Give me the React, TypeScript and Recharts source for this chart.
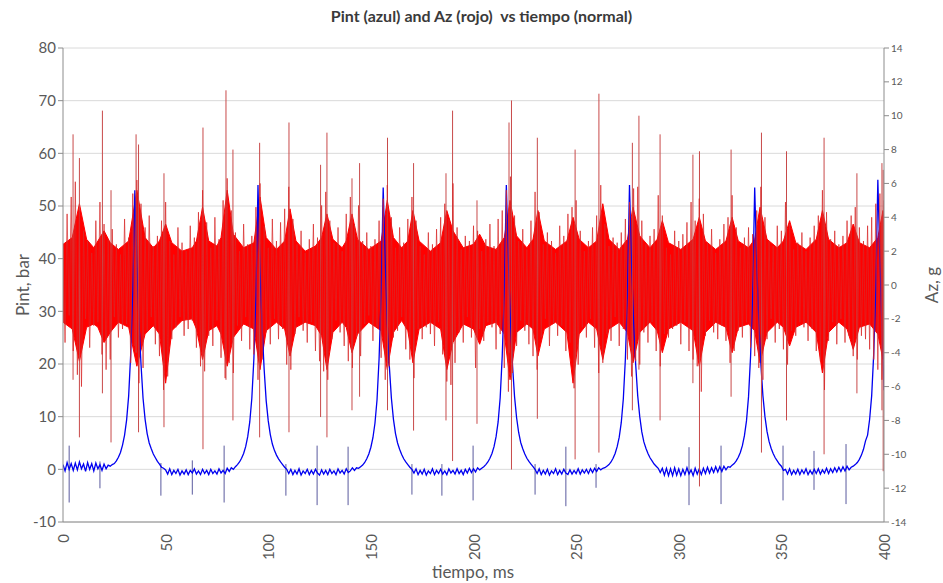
import * as React from 'react';
import { Area, CartesianGrid, ComposedChart, Line, XAxis, YAxis } from 'recharts';

// Pint (bar), one sample per ms, 0..400 ms
const PINT: number[] = [
  0.9, -0.3, 1.3, 0.0, 1.1, -0.2, 1.2, -0.1, 1.4, 0.1,
  1.0, -0.4, 1.3, 0.0, 1.1, -0.3, 1.2, 0.1, 0.9, -0.2,
  1.0, 0.1, 0.8, 0.6, 0.9, 1.1, 1.6, 2.3, 3.2, 4.6,
  6.5, 9.4, 14, 22, 34, 53, 40, 28, 20, 13.5,
  9.5, 6.8, 5.0, 3.9, 2.9, 2.2, 1.5, 1.0, 0.4, 0.2,
  -0.1, -0.9, 0.1, -1.0, -0.2, -0.8, 0.0, -1.1, -0.3, -0.9,
  -0.1, -1.0, -0.2, -0.7, 0.1, -0.9, -0.3, -1.0, 0.0, -0.8,
  -0.2, -1.0, 0.0, -0.8, -0.3, -0.9, 0.1, -0.7, -0.2, -0.8,
  0.2, -0.4, 0.3, 0.0, 0.5, 0.9, 1.4, 2.1, 3.0, 4.3,
  6.2, 9.0, 13.5, 21, 33, 54, 38, 27, 19, 13,
  9.2, 6.6, 4.8, 3.6, 2.7, 2.0, 1.4, 0.9, 0.4, 0.0,
  -0.8, 0.0, -1.0, -0.2, -0.9, 0.1, -1.1, -0.3, -0.8, 0.0,
  -1.0, -0.2, -0.9, 0.0, -0.7, -1.1, -0.1, -0.9, -0.2, -1.0,
  0.0, -0.8, -0.3, -1.0, 0.1, -0.7, -0.2, -0.9, 0.1, -0.6,
  -0.3, 0.3, -0.2, 0.3, 0.2, 0.5, 0.8, 1.3, 2.0, 2.9,
  4.2, 6.0, 8.8, 13.2, 21, 33, 53.5, 39, 27.5, 19.5,
  13.5, 9.5, 6.8, 5.0, 3.8, 2.8, 2.0, 1.4, 0.9, 0.4,
  0.0, -0.7, 0.1, -1.0, -0.2, -0.9, 0.0, -1.1, -0.3, -0.8,
  0.1, -1.0, -0.2, -0.8, 0.0, -0.9, -0.3, -1.0, 0.1, -0.7,
  -0.2, -0.9, 0.1, -0.8, -0.2, -1.0, 0.0, -0.7, 0.2, -0.6,
  0.1, -0.5, 0.3, -0.1, 0.2, 0.5, 0.9, 1.4, 2.1, 3.0,
  4.3, 6.2, 9.0, 13.6, 21.5, 33.5, 54, 39.5, 28, 19.8,
  13.8, 9.8, 7.0, 5.1, 3.9, 2.9, 2.1, 1.5, 1.0, 0.5,
  0.0, -0.8, 0.1, -1.0, -0.2, -0.9, 0.0, -1.1, -0.3, -0.8,
  0.1, -1.0, -0.2, -0.9, 0.0, -0.7, -1.0, -0.1, -0.9, -0.2,
  -0.8, 0.1, -0.9, -0.1, -0.7, 0.0, -0.8, 0.1, -0.6, 0.2,
  -0.4, 0.3, -0.1, 0.2, 0.3, 0.6, 0.9, 1.4, 2.1, 3.0,
  4.3, 6.1, 8.9, 13.4, 21, 33, 54, 39, 28, 20,
  14, 10, 7.1, 5.2, 4.0, 3.0, 2.2, 1.6, 1.0, 0.6,
  0.2, -0.6, 0.2, -1.1, 0.2, -1.2, 0.1, -1.2, 0.3, -1.1,
  0.1, -1.2, 0.0, -1.0, 0.3, -0.9, -0.1, -1.2, 0.2, -0.9,
  0.1, -1.0, 0.2, -0.8, 0.4, -0.7, 0.3, -0.6, 0.5, -0.5,
  0.5, -0.4, 0.6, -0.1, 0.5, 0.4, 0.8, 1.1, 1.6, 2.3,
  3.2, 4.5, 6.4, 9.2, 13.8, 21.5, 33, 53.5, 39, 28,
  20, 14, 10, 7.2, 5.3, 4.0, 3.0, 2.2, 1.6, 1.0,
  0.6, -0.2, 0.0, -0.9, 0.1, -1.0, -0.2, -0.9, 0.0, -1.0,
  -0.1, -0.8, 0.1, -1.0, -0.2, -0.9, 0.0, -0.8, 0.1, -0.9,
  -0.1, -0.7, 0.2, -0.8, 0.1, -0.6, 0.3, -0.5, 0.4, -0.4,
  0.5, -0.3, 0.6, -0.1, 0.4, 0.6, 0.9, 1.3, 1.9, 2.7,
  3.8, 5.4, 6.5, 9.5, 14, 22, 34, 55, 40, 27,
  15,
];

// short Pint spikes: time (ms), top, bottom
const PINT_SPIKE_T = [3, 18, 47.7, 63, 78.5, 108.6, 123.8, 138.9, 170, 184.6, 199.8, 230, 245, 259.7, 305, 320.6, 350.8, 365.9, 381.5];
const PINT_SPIKE_HI = [4.5, 1.5, 1.2, 1.7, 4.5, 1.0, 4.5, 4.3, 1.0, 1.0, 4.5, 1.0, 4.3, 1.0, 4.2, 4.5, 4.5, 3.5, 4.8];
const PINT_SPIKE_LO = [-6.3, -3.6, -5.0, -4.8, -6.3, -5.0, -6.8, -6.8, -4.8, -5.0, -5.9, -4.8, -7.0, -3.5, -6.8, -6.6, -5.9, -3.9, -6.6];

// Az (g), one sample per ms, 0..400 ms
const AZ: number[] = [
  2.1, -3.4, 4.2, -1.8, 5.2, -3.9, 6.1, -5.3, 4.4, -6.0,
  3.2, -2.0, 2.6, -3.7, 1.9, -2.4, 3.8, -2.2, 4.9, -4.1,
  3.6, -5.0, 2.7, -4.4, 3.3, -1.9, 2.4, -3.1, 1.8, -2.6,
  3.9, -2.3, 2.8, -4.6, 5.4, -3.6, 6.2, -5.8, 4.8, -4.9,
  3.4, -2.7, 4.1, -1.9, 2.3, -3.5, 2.9, -4.2, 3.8, -6.2,
  4.9, -5.4, 2.6, -3.2, 1.8, -2.5, 3.4, -1.9, 2.5, -3.0,
  2.0, -2.6, 3.5, -2.1, 2.8, -3.7, 4.3, -4.8, 5.6, -5.1,
  3.7, -3.0, 2.2, -3.6, 4.0, -2.1, 2.7, -4.3, 5.0, -5.5,
  6.3, -4.6, 4.4, -5.2, 3.1, -2.4, 2.0, -3.3, 3.6, -1.9,
  2.4, -3.8, 2.9, -4.1, 4.6, -5.6, 6.0, -4.4, 3.5, -2.8,
  2.2, -3.5, 3.9, -2.0, 2.6, -3.2, 3.7, -2.6, 4.5, -4.7,
  5.8, -5.0, 3.9, -2.9, 2.4, -1.9, 3.2, -2.7, 1.9, -3.4,
  2.7, -2.2, 3.6, -3.9, 2.8, -4.5, 4.7, -5.1, 5.5, -5.6,
  3.8, -3.2, 2.5, -2.1, 3.4, -2.8, 2.0, -3.6, 4.2, -4.5,
  5.2, -4.9, 3.6, -3.1, 4.7, -4.2, 2.6, -2.3, 3.1, -1.8,
  2.3, -3.3, 2.7, -2.5, 3.8, -4.3, 5.1, -5.6, 5.9, -4.8,
  4.0, -3.1, 2.2, -2.7, 3.4, -1.9, 2.5, -3.8, 3.9, -4.4,
  5.2, -5.5, 3.8, -2.6, 2.3, -3.2, 1.8, -2.5, 3.1, -2.9,
  2.4, -3.6, 3.3, -2.2, 4.0, -4.1, 4.8, -5.7, 3.9, -5.9,
  6.0, -4.6, 3.4, -2.8, 2.1, -3.4, 2.9, -1.9, 2.6, -3.1,
  3.5, -4.9, 3.2, -2.6, 2.0, -3.3, 2.7, -2.2, 3.6, -2.5,
  2.3, -3.8, 3.9, -2.9, 4.4, -4.9, 5.6, -6.3, 6.4, -5.2,
  4.1, -3.6, 2.6, -2.1, 3.3, -2.7, 2.1, -3.5, 3.8, -4.2,
  5.5, -5.0, 4.3, -3.1, 2.4, -2.0, 3.1, -3.6, 2.6, -2.3,
  1.9, -3.0, 3.5, -2.4, 2.9, -3.9, 4.2, -3.4, 4.6, -6.1,
  5.0, -4.7, 3.2, -2.5, 2.0, -3.1, 2.6, -2.0, 3.4, -3.7,
  4.1, -5.2, 5.9, -4.6, 3.6, -2.9, 2.3, -3.3, 2.8, -1.9,
  2.5, -3.6, 3.1, -2.6, 3.9, -4.4, 4.9, -5.4, 5.7, -4.5,
  5.8, -4.7, 3.8, -2.8, 2.4, -3.4, 2.9, -2.2, 3.3, -3.9,
  5.3, -4.8, 4.1, -2.9, 2.2, -3.1, 1.8, -2.6, 3.2, -2.4,
  2.6, -3.5, 3.0, -2.2, 3.7, -3.9, 4.9, -4.4, 3.8, -4.8,
  5.1, -6.3, 4.2, -3.0, 2.5, -2.1, 3.3, -2.8, 1.9, -3.2,
  2.7, -2.4, 3.6, -3.3, 4.0, -4.6, 5.3, -3.9, 3.4, -2.7,
  2.2, -3.1, 2.8, -2.2, 3.4, -3.7, 3.0, -4.2, 4.4, -4.9,
  5.8, -5.6, 4.0, -3.2, 2.6, -2.0, 2.3, -3.4, 3.5, -2.6,
  3.2, -3.8, 4.9, -4.7, 3.6, -2.7, 2.1, -3.0, 2.5, -2.2,
  3.1, -2.5, 2.0, -3.3, 2.8, -2.6, 3.5, -3.9, 4.1, -4.5,
  5.6, -6.2, 4.3, -3.3, 2.7, -2.2, 3.2, -3.5, 2.4, -2.0,
  2.9, -3.4, 3.8, -3.0, 4.1, -4.2, 4.6, -4.4, 3.4, -3.0,
  2.6, -3.2, 3.5, -3.8, 4.0, -4.4, 4.8, -5.0, 5.4, -5.6,
  5.0,
];

// solid core of the Az trace (bursts widen it)
const AZ_CORE_T = [
  0, 4.5, 8, 11.5, 15, 17, 20, 23, 27, 32, 36, 40, 44, 47, 50, 53, 58, 63, 65, 68,
  71, 75, 77, 80, 83, 88, 93, 96, 99, 104, 108, 110.6, 113.5, 118, 123, 126, 128.6, 131.5, 136, 138,
  140.8, 143.5, 149, 155, 158, 161, 165, 168, 170.5, 173.5, 179, 184, 187, 190, 195, 200, 203, 206, 211, 215,
  217.8, 221, 226, 229, 231.4, 234.5, 240, 245.5, 248.5, 251.5, 256, 260, 263, 266, 271, 275, 277.7, 281, 286, 289.5,
  292, 295, 301, 307, 310, 313, 318, 323, 326, 329, 334, 337, 339.6, 343, 348, 351, 354, 357, 362, 367,
  370, 373, 378, 382, 385, 388, 393, 397, 399.5, 400,
];
const AZ_CORE_HI = [
  2.4, 2.8, 4.8, 2.7, 2.2, 2.6, 3.2, 2.5, 2.1, 2.6, 5.6, 2.8, 2.2, 2.6, 3.6, 2.5, 2.0, 2.2, 2.6, 4.6,
  2.6, 2.3, 2.8, 5.6, 3.0, 2.2, 2.5, 5.2, 2.8, 2.1, 2.6, 4.5, 2.6, 2.0, 2.3, 2.8, 4.2, 2.7, 2.2, 2.6,
  4.2, 2.7, 2.1, 2.6, 5.0, 2.8, 2.2, 2.6, 4.4, 2.6, 2.0, 2.5, 4.4, 3.2, 2.2, 2.4, 3.0, 2.3, 2.1, 2.8,
  5.0, 2.9, 2.2, 2.7, 4.4, 2.6, 2.1, 2.6, 4.0, 2.7, 2.2, 2.6, 4.8, 2.7, 2.1, 2.7, 4.6, 2.9, 2.2, 2.7,
  3.8, 2.5, 2.1, 2.7, 4.0, 2.6, 2.1, 2.6, 4.0, 2.6, 2.2, 2.7, 4.6, 2.7, 2.2, 2.6, 3.8, 2.5, 2.1, 2.7,
  4.4, 2.7, 2.2, 2.5, 3.6, 2.5, 2.2, 2.8, 4.4, 3.6,
];
const AZ_CORE_LO = [
  -2.2, -2.6, -4.5, -2.5, -2.3, -2.5, -3.4, -2.8, -2.2, -2.5, -4.8, -2.9, -2.4, -2.9, -5.8, -2.7, -2.1, -2.0, -2.6, -4.4,
  -2.7, -2.4, -2.9, -4.8, -3.1, -2.3, -2.6, -5.0, -2.7, -2.2, -2.6, -4.2, -2.5, -2.2, -2.4, -3.0, -5.0, -2.8, -2.2, -2.5,
  -4.0, -2.9, -2.2, -2.7, -5.0, -2.8, -2.1, -2.7, -4.6, -2.6, -2.2, -2.6, -5.0, -3.4, -2.3, -2.6, -3.5, -2.4, -2.2, -2.9,
  -5.6, -2.8, -2.3, -2.6, -4.2, -2.6, -2.2, -2.8, -5.8, -2.9, -2.2, -2.6, -4.4, -2.6, -2.2, -2.8, -4.6, -2.8, -2.2, -2.7,
  -4.0, -2.6, -2.2, -2.7, -4.8, -2.8, -2.2, -2.5, -4.0, -2.5, -2.3, -2.7, -4.6, -2.8, -2.2, -2.5, -3.6, -2.5, -2.2, -2.8,
  -5.2, -2.8, -2.2, -2.6, -3.8, -2.5, -2.3, -2.9, -4.4, -3.4,
];

// tall Az spikes: time (ms), top, bottom
const AZ_SPIKE_T = [
  4.9, 8.0, 19.2, 23.4, 35.6, 36.8, 49.2, 68.2, 79.4, 82.8, 95.8, 110.1, 125.5, 128.6, 140.8, 144.5, 158.1, 170.8, 186.6,
  189.8, 201.7, 217.3, 218.5, 231.1, 249.5, 261.1, 277.4, 280.6, 290.9, 306.9, 310.1, 325.5, 340.3, 352.5, 370.8, 386.8, 399.0, 399.6,
];
const AZ_SPIKE_HI = [
  8.9, 7.5, 10.3, 5.6, 8.9, 8.3, 6.6, 9.3, 11.5, 8.0, 8.4, 9.6, 7.1, 9.0, 6.3, 7.2, 8.7, 7.2, 6.6,
  10.3, 5.0, 9.6, 10.9, 8.7, 8.0, 11.3, 8.4, 10.0, 8.9, 7.7, 7.9, 8.0, 9.0, 7.9, 8.7, 6.6, 7.2, 6.8,
];
const AZ_SPIKE_LO = [
  -5.6, -9.0, -6.4, -9.3, -4.0, -8.7, -8.4, -9.7, -5.6, -8.0, -9.0, -8.7, -7.8, -9.0, -7.4, -6.6, -7.4, -8.6, -8.0,
  -10.4, -8.2, -4.0, -10.9, -7.9, -10.3, -9.9, -7.4, -5.0, -8.0, -5.8, -11.9, -6.6, -9.9, -8.0, -10.0, -6.4, -7.4, -11.0,
];

const X_TICKS = [0, 50, 100, 150, 200, 250, 300, 350, 400];
const PINT_TICKS = [-10, 0, 10, 20, 30, 40, 50, 60, 70, 80];
const AZ_TICKS = [-14, -12, -10, -8, -6, -4, -2, 0, 2, 4, 6, 8, 10, 12, 14];

const FONT = 'Lato, "Open Sans", sans-serif';
const TEXT = '#595959';
const AXIS = '#8c8c8c';

const rows = PINT.map((p, i) => ({ t: i, pint: p, az: AZ[i] }));
const coreRows = AZ_CORE_T.map((t, i) => ({ t, band: [AZ_CORE_LO[i], AZ_CORE_HI[i]] }));
const spikeRows = (ts: number[], hi: number[], lo: number[]) =>
  ts.flatMap((t, i) => [
    { t, v: hi[i] },
    { t, v: lo[i] },
    { t, v: null },
  ]);
const pintSpikes = spikeRows(PINT_SPIKE_T, PINT_SPIKE_HI, PINT_SPIKE_LO);
const azSpikes = spikeRows(AZ_SPIKE_T, AZ_SPIKE_HI, AZ_SPIKE_LO);

function XTick({ x, y, payload }: any) {
  return (
    <text
      x={x}
      y={y + 4}
      transform={`rotate(-90, ${x}, ${y + 4})`}
      textAnchor="end"
      dominantBaseline="central"
      fill={TEXT}
      fontSize={15}
      fontFamily={FONT}
    >
      {payload.value}
    </text>
  );
}

const axisTitle: React.CSSProperties = {
  position: 'absolute',
  fontFamily: FONT,
  fontSize: 17,
  color: TEXT,
  whiteSpace: 'nowrap',
};

export default function App() {
  return (
    <div style={{ position: 'absolute', left: 0, top: 0, width: 943, height: 583, background: '#fff' }}>
      <div
        style={{
          position: 'absolute', left: 0, width: 943, top: 6, textAlign: 'center',
          fontFamily: FONT, fontWeight: 700, fontSize: 16, color: '#3a3a3a', paddingLeft: 10,
        }}
      >
        Pint (azul) and Az (rojo)&nbsp; vs tiempo (normal)
      </div>
      <div style={{ ...axisTitle, left: 22, top: 285, transform: 'translate(-50%, -50%) rotate(-90deg)' }}>
        Pint, bar
      </div>
      <div style={{ ...axisTitle, left: 931, top: 285, transform: 'translate(-50%, -50%) rotate(-90deg)' }}>
        Az, g
      </div>
      <div style={{ ...axisTitle, left: 473, top: 561, transform: 'translateX(-50%)' }}>tiempo, ms</div>
      <ComposedChart width={943} height={583} data={rows} margin={{ top: 48, right: 0, bottom: 0, left: 0 }}>
        <CartesianGrid yAxisId="left" vertical={false} stroke="#dadada" />
        <XAxis
          dataKey="t"
          type="number"
          domain={[0, 400]}
          ticks={X_TICKS}
          height={61}
          tickLine={false}
          axisLine={{ stroke: AXIS }}
          tick={<XTick />}
          allowDataOverflow
        />
        <YAxis
          yAxisId="left"
          domain={[-10, 80]}
          ticks={PINT_TICKS}
          width={63}
          tickSize={5}
          tickLine={{ stroke: AXIS }}
          axisLine={{ stroke: AXIS }}
          tick={{ fontSize: 15, fill: TEXT, fontFamily: FONT }}
          allowDataOverflow
        />
        <YAxis
          yAxisId="right"
          orientation="right"
          domain={[-14, 14]}
          ticks={AZ_TICKS}
          width={59}
          tickSize={5}
          tickLine={{ stroke: AXIS }}
          axisLine={{ stroke: AXIS }}
          tick={{ fontSize: 10, fill: TEXT, fontFamily: FONT }}
          allowDataOverflow
        />
        <Line
          yAxisId="left"
          data={pintSpikes}
          dataKey="v"
          type="linear"
          stroke="#5a5a9e"
          strokeWidth={1}
          dot={false}
          isAnimationActive={false}
        />
        <Line
          yAxisId="left"
          dataKey="pint"
          type="linear"
          stroke="#0000f0"
          strokeWidth={1.3}
          dot={false}
          isAnimationActive={false}
        />
        <Line
          yAxisId="right"
          data={azSpikes}
          dataKey="v"
          type="linear"
          stroke="#c84a4a"
          strokeWidth={1}
          dot={false}
          isAnimationActive={false}
        />
        <Line
          yAxisId="right"
          dataKey="az"
          type="linear"
          stroke="#d82828"
          strokeOpacity={0.8}
          strokeWidth={0.9}
          dot={false}
          isAnimationActive={false}
        />
        <Area
          yAxisId="right"
          data={coreRows}
          dataKey="band"
          type="linear"
          stroke="#ff0000"
          strokeWidth={1}
          fill="#ff0000"
          fillOpacity={1}
          dot={false}
          isAnimationActive={false}
        />
      </ComposedChart>
    </div>
  );
}
